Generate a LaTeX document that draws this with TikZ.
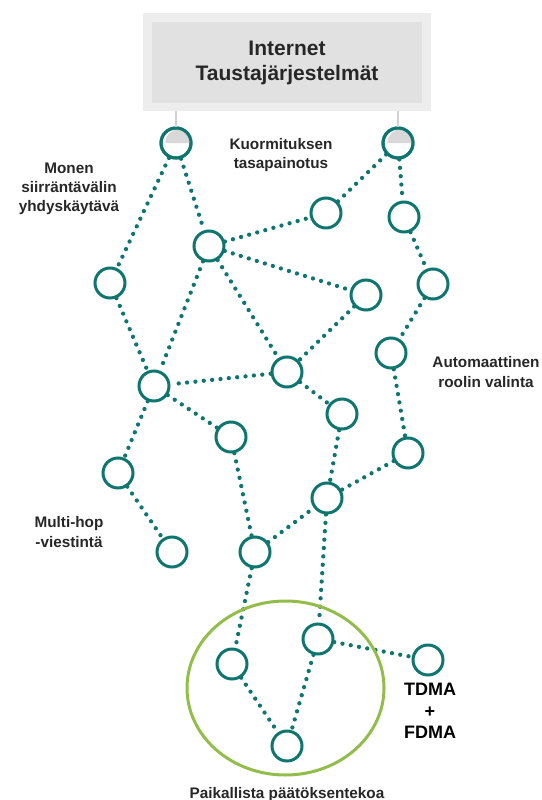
\documentclass[tikz,border=0pt]{standalone}
\usepackage{fontspec}
\setmainfont{Liberation Sans}
\definecolor{teal1}{HTML}{0F756F}
\definecolor{green1}{HTML}{93BD4A}
\definecolor{boxout}{HTML}{EDEDED}
\definecolor{boxin}{HTML}{E1E1E2}
\definecolor{gwfill}{HTML}{D8D8D8}
\definecolor{txt}{HTML}{272727}
\begin{document}
\begin{tikzpicture}[x=1pt,y=-1pt,
  nd/.style={circle,draw=teal1,line width=3pt,minimum size=30pt,inner sep=0pt,fill=white},
  link/.style={draw=teal1,line width=4.3pt,line cap=round,dash pattern=on 0pt off 8.4pt},
  lbl/.style={font=\bfseries\fontsize{15.3}{19.3}\selectfont,text=txt,align=center,inner sep=0pt},
  stub/.style={draw=gray!35,line width=1.6pt}]
\path[use as bounding box] (0,0) rectangle (541,800);
% backend box
\fill[boxout] (143,13) rectangle (431,111);
\fill[boxin] (152,22) rectangle (422,103);
\node[font=\bfseries\fontsize{21}{25.5}\selectfont,text=txt,align=center,inner sep=0pt] (net) at (287,63) {Internet\\Taustajärjestelmät};
% nodes
\coordinate (s1) at (176,111);
\coordinate (s2) at (398,111);
\node[nd] (G1) at (176,143) {};
\node[nd] (G2) at (398,143) {};
\node[nd] (A) at (110,283) {};
\node[nd] (B) at (209,246) {};
\node[nd] (C) at (326,213) {};
\node[nd] (D) at (404,217) {};
\node[nd] (E) at (366,295) {};
\node[nd] (F) at (433,284) {};
\node[nd] (H) at (391,353) {};
\node[nd] (I) at (287,372) {};
\node[nd] (J) at (154,386) {};
\node[nd] (K) at (342,414) {};
\node[nd] (L) at (231,437) {};
\node[nd] (M) at (118,473) {};
\node[nd] (N) at (408,453) {};
\node[nd] (O) at (327,498) {};
\node[nd] (P) at (172,552) {};
\node[nd] (Q) at (255,552) {};
\node[nd] (R) at (318,639) {};
\node[nd] (S) at (232,664) {};
\node[nd] (T) at (428,660) {};
\node[nd] (U) at (287,746) {};
% gateway half fills
\foreach \g in {G1,G2}{
  \fill[gwfill] (\g.east) arc[start angle=0,end angle=180,radius=13.6pt] -- cycle;
  \draw[teal1,line width=3pt] (\g) circle[radius=15pt];
}
\draw[stub] (s1) -- (G1.north);
\draw[stub] (s2) -- (G2.north);
% links
\foreach \a/\b in {G1/A,G1/B,G2/C,G2/D,B/C,B/E,B/I,B/J,A/J,E/I,I/J,I/K,J/L,J/M,D/F,F/H,H/N,N/O,K/O,L/Q,M/P,Q/O,Q/S,O/R,R/T,R/U,S/U}
  \path[link] (\a) -- (\b);
% local decision ellipse
\draw[green1,line width=3pt] (285.5,688) ellipse[x radius=98.5,y radius=87];
% labels
\node[lbl] (l1) at (69,189) {Monen\\siirräntävälin\\yhdyskäytävä};
\node[lbl] (l2) at (281,155) {Kuormituksen\\tasapainotus};
\node[lbl] (l3) at (486,372) {Automaattinen\\roolin valinta};
\node[lbl] (l4) at (69,532) {Multi-hop\\-viestintä};
\node[font=\bfseries\fontsize{18}{21.5}\selectfont,text=black,align=center,inner sep=0pt] (l5) at (430,711) {TDMA\\+\\FDMA};
\node[lbl,anchor=base] (l6) at (287,798) {Paikallista päätöksentekoa};
\end{tikzpicture}
\end{document}
